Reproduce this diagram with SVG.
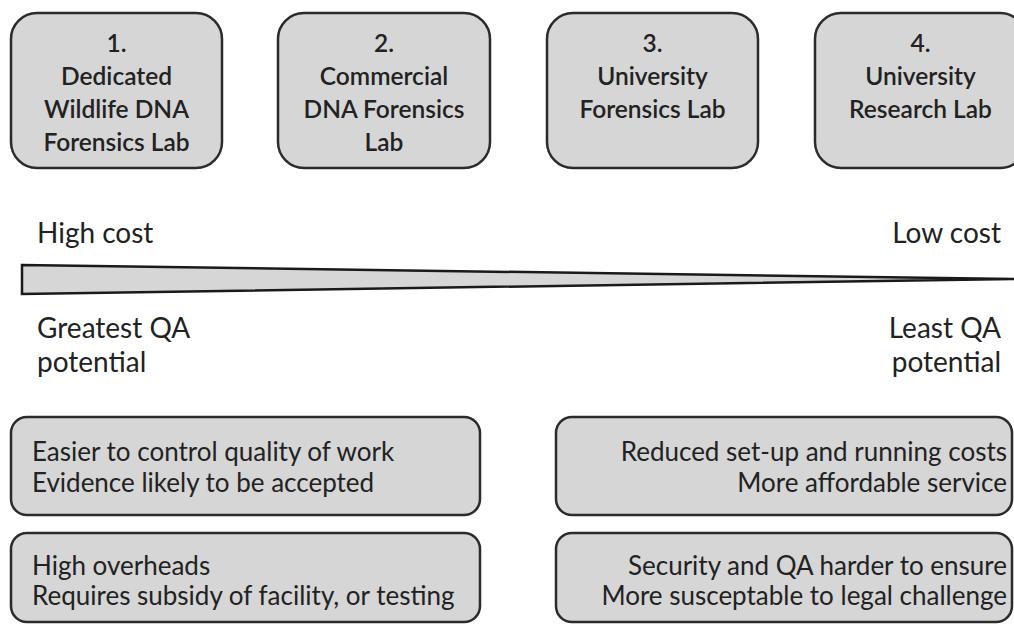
<svg xmlns="http://www.w3.org/2000/svg" width="1014" height="626" viewBox="0 0 1014 626">
<style>
.box{fill:#d6d6d6;stroke:#2b2b2b;stroke-width:2.5}
.t{font-family:Lato,"Open Sans","Liberation Sans",sans-serif;fill:#222}
.top{font-size:24.5px;font-weight:600;text-anchor:middle}
.mid{font-size:28px}
.bot{font-size:26px}
.r{text-anchor:end}
</style>
<rect width="1014" height="626" fill="#ffffff"/>
<g id="node1">
<rect class="box" x="11" y="13" width="211" height="155" rx="26"/>
<text class="t top" x="116.5" y="52">1.</text>
<text class="t top" x="116.5" y="85">Dedicated</text>
<text class="t top" x="116.5" y="118">Wildlife DNA</text>
<text class="t top" x="116.5" y="151">Forensics Lab</text>
</g>
<g id="node2">
<rect class="box" x="278" y="13" width="212" height="155" rx="26"/>
<text class="t top" x="384" y="52">2.</text>
<text class="t top" x="384" y="85">Commercial</text>
<text class="t top" x="384" y="118">DNA Forensics</text>
<text class="t top" x="384" y="151">Lab</text>
</g>
<g id="node3">
<rect class="box" x="547" y="13" width="211" height="155" rx="26"/>
<text class="t top" x="652.5" y="52">3.</text>
<text class="t top" x="652.5" y="85">University</text>
<text class="t top" x="652.5" y="118">Forensics Lab</text>
</g>
<g id="node4">
<rect class="box" x="815" y="13" width="211" height="155" rx="26"/>
<text class="t top" x="920.5" y="52">4.</text>
<text class="t top" x="920.5" y="85">University</text>
<text class="t top" x="920.5" y="118">Research Lab</text>
</g>
<g id="scale">
<polygon points="22,265 1014,279 22,294" fill="#d6d6d6" stroke="#1a1a1a" stroke-width="2.5" stroke-linejoin="miter"/>
<text class="t mid" x="37" y="243">High cost</text>
<text class="t mid r" x="1001" y="243">Low cost</text>
<text class="t mid" x="37" y="338">Greatest QA</text>
<text class="t mid" x="37" y="372">potential</text>
<text class="t mid r" x="1001" y="338">Least QA</text>
<text class="t mid r" x="1001" y="372">potential</text>
</g>
<g id="pros-high">
<rect class="box" x="11" y="417" width="469" height="98" rx="16"/>
<text class="t bot" x="32" y="461">Easier to control quality of work</text>
<text class="t bot" x="32" y="492">Evidence likely to be accepted</text>
</g>
<g id="cons-high">
<rect class="box" x="11" y="533" width="469" height="89" rx="16"/>
<text class="t bot" x="32" y="575">High overheads</text>
<text class="t bot" x="32" y="605">Requires subsidy of facility, or testing</text>
</g>
<g id="pros-low">
<rect class="box" x="556" y="417" width="456" height="98" rx="16"/>
<text class="t bot r" x="1007" y="461">Reduced set-up and running costs</text>
<text class="t bot r" x="1007" y="492">More affordable service</text>
</g>
<g id="cons-low">
<rect class="box" x="556" y="533" width="456" height="89" rx="16"/>
<text class="t bot r" x="1007" y="575">Security and QA harder to ensure</text>
<text class="t bot r" x="1007" y="605">More susceptable to legal challenge</text>
</g>
<g id="connectors"></g>
</svg>
